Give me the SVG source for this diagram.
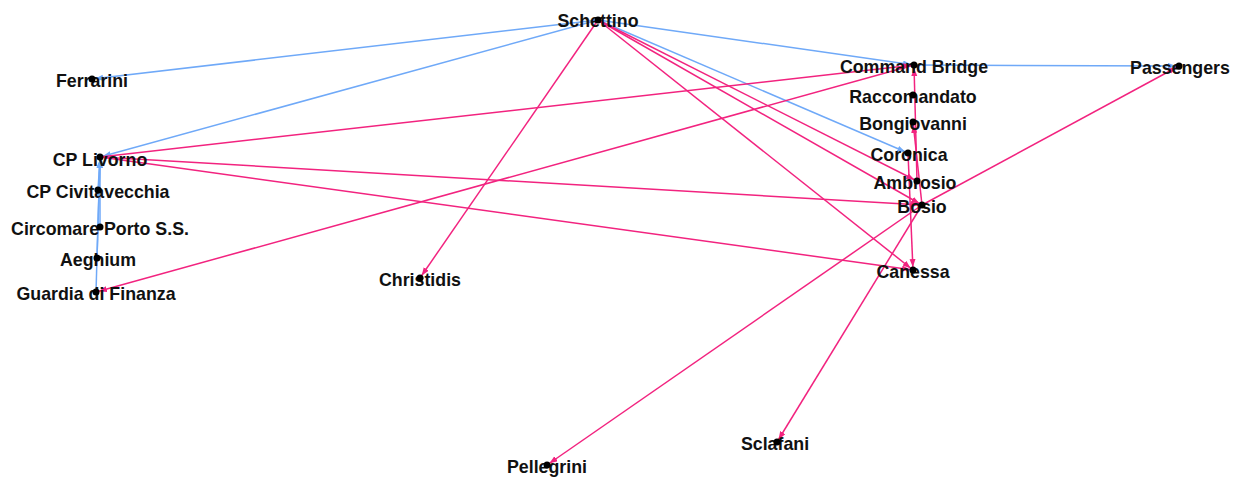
<svg xmlns="http://www.w3.org/2000/svg" width="1246" height="481" viewBox="0 0 1246 481">
  <style>
    .bg { fill: #ffffff; }
    .e { fill: none; stroke-width: 1.5; }
    .blue { stroke: #6fa9f8; marker-end: url(#ab); }
    .pink { stroke: #f2237f; marker-end: url(#ap); }
    .dot { fill: #000000; }
    .lbl { font-family: "Liberation Sans", Arial, sans-serif; font-size: 17.8px; font-weight: bold; fill: #111111; text-anchor: middle; }
  </style>
  <defs>
    <marker id="ab" markerUnits="userSpaceOnUse" markerWidth="12" markerHeight="8" refX="11" refY="3" orient="auto">
      <path d="M0,0 L8,3 L0,6 Z" fill="#6fa9f8"/>
    </marker>
    <marker id="ap" markerUnits="userSpaceOnUse" markerWidth="12" markerHeight="8" refX="11" refY="3" orient="auto">
      <path d="M0,0 L8,3 L0,6 Z" fill="#f2237f"/>
    </marker>
  </defs>
  <rect class="bg" x="0" y="0" width="1246" height="481"/>

  <g id="edges">
    <!-- blue links -->
    <line class="e blue" x1="598" y1="20" x2="92" y2="79"/>
    <line class="e blue" x1="598" y1="20" x2="100" y2="157"/>
    <line class="e blue" x1="598" y1="20" x2="914" y2="65"/>
    <line class="e blue" x1="598" y1="20" x2="908" y2="153"/>
    <line class="e blue" x1="914" y1="65" x2="1179" y2="66"/>
    <line class="e blue" x1="98" y1="190" x2="100" y2="157"/>
    <line class="e blue" x1="100" y1="227" x2="100" y2="157"/>
    <line class="e blue" x1="97" y1="258" x2="100" y2="157"/>
    <line class="e blue" x1="96" y1="292" x2="100" y2="157"/>
    <!-- pink links -->
    <line class="e pink" x1="598" y1="20" x2="420" y2="278"/>
    <line class="e pink" x1="598" y1="20" x2="913" y2="270"/>
    <line class="e pink" x1="598" y1="20" x2="917" y2="181"/>
    <line class="e pink" x1="598" y1="20" x2="922" y2="205"/>
    <line class="e pink" x1="100" y1="157" x2="914" y2="65"/>
    <line class="e pink" x1="914" y1="65" x2="96" y2="292"/>
    <line class="e pink" x1="100" y1="157" x2="922" y2="205"/>
    <line class="e pink" x1="100" y1="157" x2="913" y2="270"/>
    <line class="e pink" x1="917" y1="181" x2="914" y2="65"/>
    <line class="e pink" x1="922" y1="205" x2="913" y2="122"/>
    <line class="e pink" x1="908" y1="153" x2="913" y2="270"/>
    <line class="e pink" x1="922" y1="205" x2="1179" y2="66"/>
    <line class="e pink" x1="922" y1="205" x2="547" y2="465"/>
    <line class="e pink" x1="922" y1="205" x2="777" y2="442"/>
  </g>

  <g id="n-schettino"><text class="lbl" x="598" y="27">Schettino</text><circle class="dot" cx="598" cy="20" r="3.5"/></g>
  <g id="n-ferrarini"><text class="lbl" x="92" y="87">Ferrarini</text><circle class="dot" cx="92" cy="79" r="3.5"/></g>
  <g id="n-cp-livorno"><text class="lbl" x="100" y="166">CP Livorno</text><circle class="dot" cx="100" cy="157" r="3.5"/></g>
  <g id="n-cp-civitavecchia"><text class="lbl" x="98" y="198">CP Civitavecchia</text><circle class="dot" cx="98" cy="190" r="3.5"/></g>
  <g id="n-circomare"><text class="lbl" x="100" y="235">Circomare Porto S.S.</text><circle class="dot" cx="100" cy="227" r="3.5"/></g>
  <g id="n-aeghium"><text class="lbl" x="98" y="266">Aeghium</text><circle class="dot" cx="97" cy="258" r="3.5"/></g>
  <g id="n-guardia"><text class="lbl" x="96" y="300">Guardia di Finanza</text><circle class="dot" cx="96" cy="292" r="3.5"/></g>
  <g id="n-command-bridge"><text class="lbl" x="914" y="73">Command Bridge</text><circle class="dot" cx="914" cy="65" r="3.5"/></g>
  <g id="n-raccomandato"><text class="lbl" x="913" y="103">Raccomandato</text><circle class="dot" cx="913" cy="95" r="3.5"/></g>
  <g id="n-bongiovanni"><text class="lbl" x="913" y="130">Bongiovanni</text><circle class="dot" cx="913" cy="122" r="3.5"/></g>
  <g id="n-coronica"><text class="lbl" x="909" y="161">Coronica</text><circle class="dot" cx="908" cy="153" r="3.5"/></g>
  <g id="n-ambrosio"><text class="lbl" x="915" y="189">Ambrosio</text><circle class="dot" cx="917" cy="181" r="3.5"/></g>
  <g id="n-bosio"><text class="lbl" x="922" y="213">Bosio</text><circle class="dot" cx="922" cy="205" r="3.5"/></g>
  <g id="n-canessa"><text class="lbl" x="913" y="278">Canessa</text><circle class="dot" cx="913" cy="270" r="3.5"/></g>
  <g id="n-passengers"><text class="lbl" x="1180" y="74">Passengers</text><circle class="dot" cx="1179" cy="66" r="3.5"/></g>
  <g id="n-christidis"><text class="lbl" x="420" y="286">Christidis</text><circle class="dot" cx="420" cy="278" r="3.5"/></g>
  <g id="n-pellegrini"><text class="lbl" x="547" y="473">Pellegrini</text><circle class="dot" cx="547" cy="465" r="3.5"/></g>
  <g id="n-sclafani"><text class="lbl" x="775" y="450">Sclafani</text><circle class="dot" cx="777" cy="442" r="3.5"/></g>
</svg>
